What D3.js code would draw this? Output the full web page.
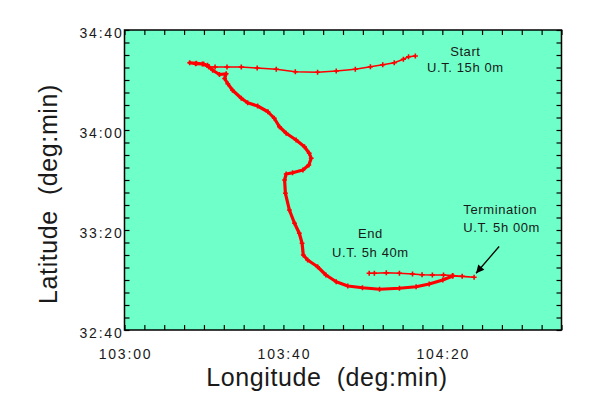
<!DOCTYPE html>
<html>
<head>
<meta charset="utf-8">
<script src="https://cdn.jsdelivr.net/npm/d3@7"></script>
<style>
  body { margin: 0; background: #ffffff; }
  text { font-family: "Liberation Sans", Arial, sans-serif; fill: #1a1a1a; white-space: pre; }
</style>
</head>
<body>
<svg id="track" width="591" height="399"></svg>
<script>
// positions are "deg:min"
const startLegLon = ["104:13.2", "104:11.5", "104:10.2", "104:07.9", "104:05.0", "104:01.9", "103:58.1", "103:53.3",
                     "103:48.6", "103:43.0", "103:38.2", "103:33.4", "103:29.4", "103:25.8", "103:22.8", "103:21.2"];
const startLegLat = ["34:29.6", "34:29.3", "34:28.3", "34:26.9", "34:26.1", "34:25.3", "34:24.3", "34:23.6",
                     "34:23.1", "34:23.3", "34:24.3", "34:24.8", "34:25.2", "34:25.2", "34:25.2", "34:25.3"];

const driftLon = ["103:21.2", "103:19.9", "103:18.1", "103:16.4", "103:17.9", "103:19.6", "103:20.9", "103:22.2",
                  "103:23.9", "103:25.6", "103:25.2", "103:26.0", "103:27.2", "103:29.4", "103:31.0", "103:33.5",
                  "103:36.1", "103:37.7", "103:39.0", "103:40.7", "103:43.2", "103:45.3", "103:46.5", "103:47.0",
                  "103:46.4", "103:44.9", "103:42.3", "103:40.7", "103:40.3", "103:40.5", "103:41.5", "103:42.8",
                  "103:44.0", "103:44.7", "103:45.0", "103:46.1", "103:48.6", "103:50.7", "103:53.3", "103:56.2",
                  "103:59.9", "104:04.2", "104:09.2", "104:13.4", "104:16.7", "104:20.1", "104:22.6"];
const driftLat = ["34:25.3", "34:26.4", "34:26.7", "34:26.9", "34:26.5", "34:26.4", "34:25.9", "34:23.9",
                  "34:22.2", "34:22.5", "34:20.6", "34:18.5", "34:15.9", "34:12.7", "34:10.9", "34:09.6",
                  "34:07.3", "34:04.7", "34:01.3", "33:58.7", "33:56.0", "33:53.3", "33:50.7", "33:48.7",
                  "33:46.0", "33:44.0", "33:42.9", "33:42.4", "33:40.0", "33:34.7", "33:28.0", "33:22.7",
                  "33:18.7", "33:14.7", "33:10.0", "33:08.0", "33:05.3", "33:02.0", "32:59.3", "32:57.6",
                  "32:56.9", "32:56.3", "32:56.7", "32:57.3", "32:58.4", "33:00.0", "33:01.6"];

const endLegLon = ["104:22.6", "104:28.0", "104:25.0", "104:22.6", "104:20.3", "104:17.5", "104:14.9", "104:12.5",
                   "104:09.2", "104:05.9", "104:02.9", "104:01.6"];
const endLegLat = ["33:01.6", "33:01.1", "33:01.5", "33:01.8", "33:02.0", "33:02.0", "33:02.1", "33:02.4",
                   "33:02.7", "33:02.9", "33:02.7", "33:02.7"];

const xLabels = ["103:00", "103:40", "104:20"];
const yLabels = ["32:40", "33:20", "34:00", "34:40"];

const notes = [
  { lines: ["Start", "U.T. 15h 0m"], lon: "104:25.8", lat: ["34:29.6", "34:23.3"], anchor: "middle" },
  { lines: ["End", "U.T. 5h 40m"], lon: "104:01.9", lat: ["33:16.8", "33:09.3"], anchor: "middle" },
  { lines: ["Termination", "U.T. 5h 00m"], lon: "104:25.3", lat: ["33:26.4", "33:19.2"], anchor: "start" }
];
const arrowFrom = ["104:34.3", "33:13.4"];
const arrowTo = ["104:28.5", "33:02.7"];

const dm = s => { const [d, m] = s.split(":"); return +d + (+m) / 60; };
const fmt = v => { const t = Math.round(v * 60); return Math.floor(t / 60) + ":" + String(t % 60).padStart(2, "0"); };

const svg = d3.select("#track");
const margin = { top: 30, right: 29.5, bottom: 69, left: 124.5 },
      width = +svg.attr("width") - margin.left - margin.right,
      height = +svg.attr("height") - margin.top - margin.bottom;

const x = d3.scaleLinear().domain([dm("103:00"), dm("104:50")]).range([margin.left, margin.left + width]);
const y = d3.scaleLinear().domain([dm("32:40"), dm("34:40")]).range([margin.top + height, margin.top]);

// plot background
svg.append("rect")
  .attr("x", x.range()[0]).attr("y", y.range()[1])
  .attr("width", width).attr("height", height)
  .attr("fill", "#6fffc8");

// minor ticks every 5 minutes, pointing inward on all four sides
const xTicks = d3.range(0, 111, 5).map(m => dm("103:00") + m / 60);
const yTicks = d3.range(0, 121, 5).map(m => dm("32:40") + m / 60);
const tickAxes = [
  [d3.axisBottom(x).tickValues(xTicks), `translate(0,${y.range()[0]})`],
  [d3.axisTop(x).tickValues(xTicks), `translate(0,${y.range()[1]})`],
  [d3.axisLeft(y).tickValues(yTicks), `translate(${x.range()[0]},0)`],
  [d3.axisRight(y).tickValues(yTicks), `translate(${x.range()[1]},0)`]
];
tickAxes.forEach(([ax, tr]) => {
  const g = svg.append("g").attr("transform", tr)
    .call(ax.tickSize(-5).tickSizeOuter(0).tickFormat(""));
  g.select(".domain").remove();
  g.selectAll("line").attr("stroke", "#000").attr("stroke-width", 1.2);
});

// frame
svg.append("rect")
  .attr("x", x.range()[0]).attr("y", y.range()[1])
  .attr("width", width).attr("height", height)
  .attr("fill", "none").attr("stroke", "#000").attr("stroke-width", 1.5);

// tick labels
svg.selectAll(".xlab").data(xLabels).join("text")
  .attr("x", d => x(dm(d)) + 1).attr("y", y.range()[0] + 29)
  .attr("text-anchor", "middle")
  .style("font-size", "14px").style("letter-spacing", "1.8px")
  .text(d => fmt(dm(d)));

svg.selectAll(".ylab").data(yLabels).join("text")
  .attr("x", x.range()[0] - 1).attr("y", d => y(dm(d)) + 7.5)
  .attr("text-anchor", "end")
  .style("font-size", "14px").style("letter-spacing", "1.8px")
  .text(d => fmt(dm(d)));

// axis titles
svg.append("text")
  .attr("x", 327).attr("y", 386)
  .attr("text-anchor", "middle")
  .style("font-size", "25px").style("letter-spacing", "0.6px")
  .text("Longitude  (deg:min)");

svg.append("text")
  .attr("transform", "translate(57,194) rotate(-90)")
  .attr("text-anchor", "middle")
  .style("font-size", "25px").style("letter-spacing", "0.6px")
  .text("Latitude  (deg:min)");

// track
const line = d3.line().x(d => x(d[0])).y(d => y(d[1]));
const pts = (lon, lat) => lon.map((v, i) => [dm(v), dm(lat[i])]);
const plus = s => `M${-s},0H${s}M0,${-s}V${s}`;

const legs = [
  { data: pts(startLegLon, startLegLat), w: 1.4, mark: 2.6 },
  { data: pts(driftLon, driftLat), w: 3.2, mark: 2.4 },
  { data: pts(endLegLon, endLegLat), w: 1.4, mark: 2.6 }
];
legs.forEach(leg => {
  svg.append("path")
    .attr("d", line(leg.data))
    .attr("fill", "none").attr("stroke", "#ff0000")
    .attr("stroke-width", leg.w).attr("stroke-linejoin", "round");
  svg.append("g").selectAll("path").data(leg.data).join("path")
    .attr("transform", d => `translate(${x(d[0])},${y(d[1])})`)
    .attr("d", plus(leg.mark))
    .attr("stroke", "#ff0000").attr("stroke-width", 1.6);
});

// annotations
notes.forEach(n => {
  n.lines.forEach((t, i) => {
    svg.append("text")
      .attr("x", x(dm(n.lon))).attr("y", y(dm(n.lat[i])))
      .attr("text-anchor", n.anchor)
      .style("font-size", "13px").style("letter-spacing", "0.6px")
      .text(t);
  });
});

svg.append("defs").append("marker")
  .attr("id", "head").attr("viewBox", "0 0 10 10")
  .attr("refX", 10).attr("refY", 5)
  .attr("markerWidth", 9).attr("markerHeight", 8)
  .attr("markerUnits", "userSpaceOnUse")
  .attr("orient", "auto")
  .append("path").attr("d", "M0,0L10,5L0,10z").attr("fill", "#000");

svg.append("line")
  .attr("x1", x(dm(arrowFrom[0]))).attr("y1", y(dm(arrowFrom[1])))
  .attr("x2", x(dm(arrowTo[0]))).attr("y2", y(dm(arrowTo[1])))
  .attr("stroke", "#000").attr("stroke-width", 1.3)
  .attr("marker-end", "url(#head)");
</script>
</body>
</html>
